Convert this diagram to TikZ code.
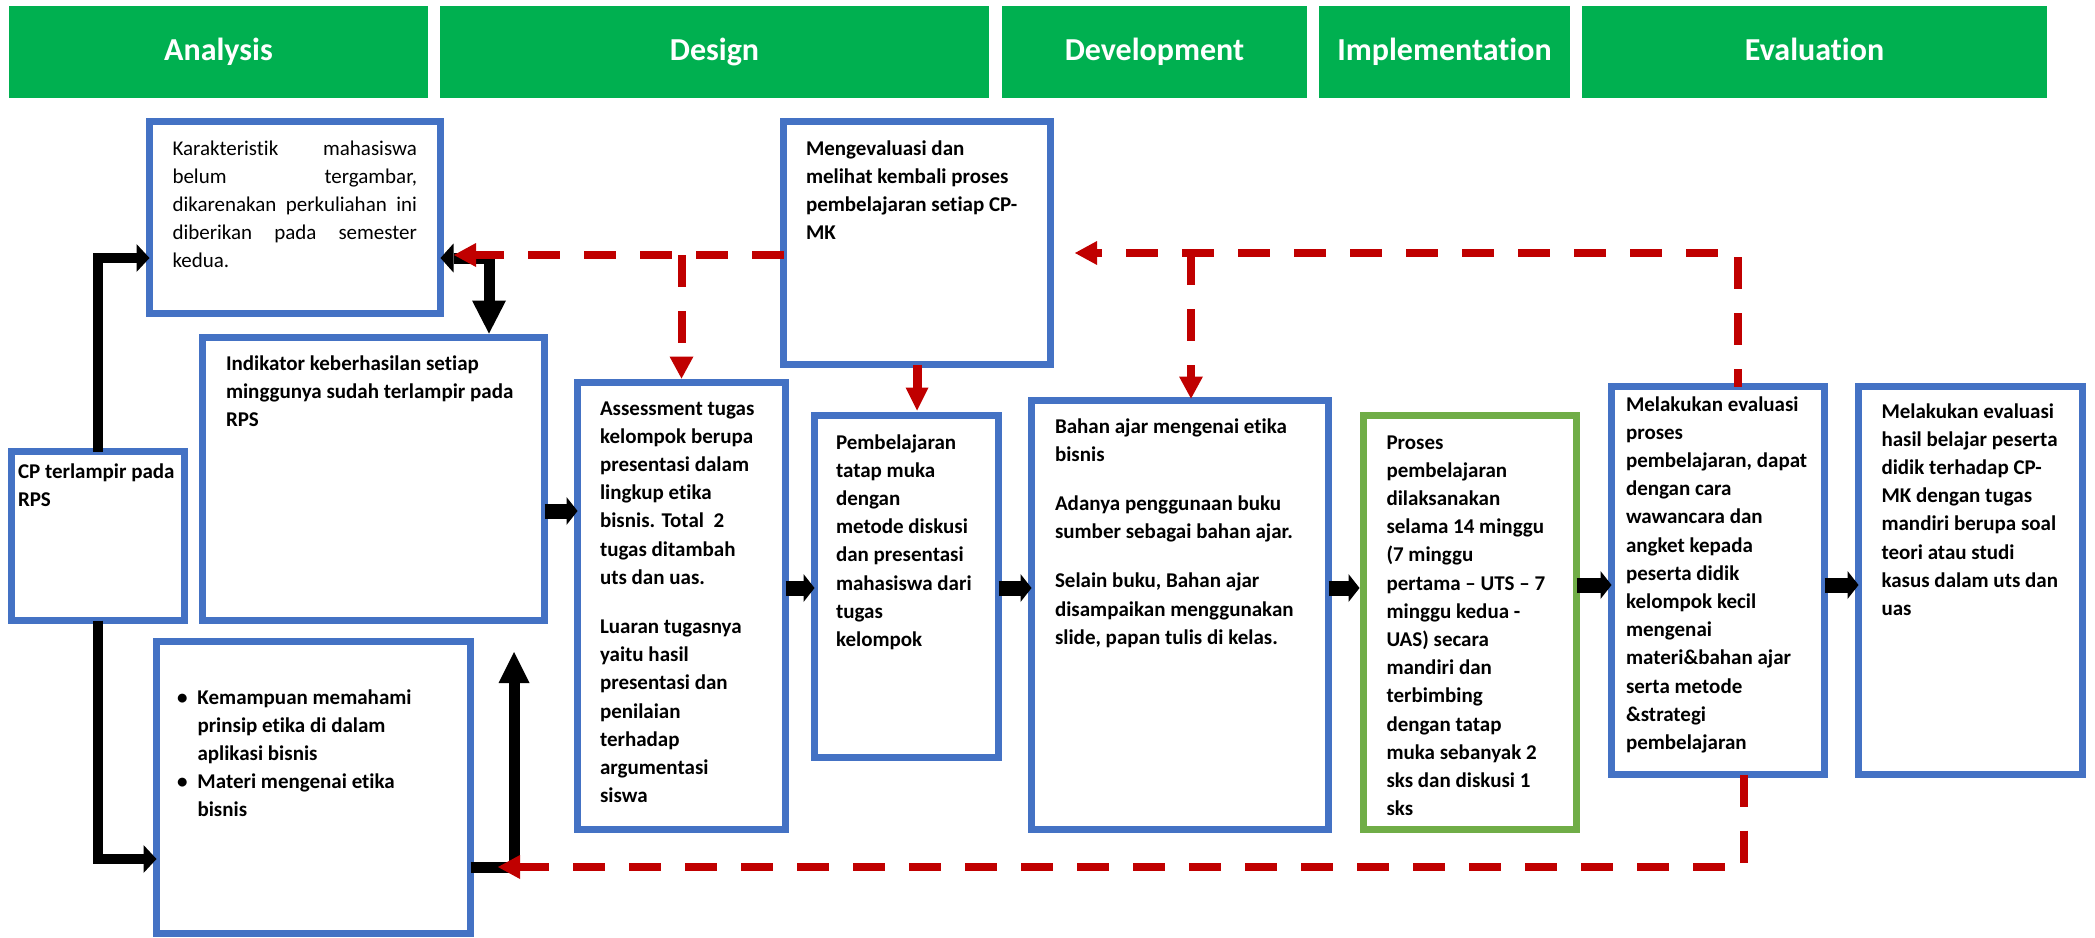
\documentclass[tikz,border=0pt]{standalone}
\usepackage{fontspec}
\setmainfont{Carlito}[Ligatures={NoCommon}]
\usetikzlibrary{arrows.meta}
\definecolor{hgreen}{HTML}{00B050}
\definecolor{bblue}{HTML}{4472C4}
\definecolor{bgreen}{HTML}{70AD47}
\definecolor{rred}{HTML}{C00000}
\newcommand{\mybody}{\fontsize{21}{28.2}\selectfont\bfseries}
\newcommand{\myreg}{\fontsize{21}{28.2}\selectfont}
\newcommand{\myhdr}{\fontsize{32}{38}\selectfont\bfseries}
\newcommand{\mystrut}{\rule{0pt}{18pt}}
\begin{document}
\begin{tikzpicture}[x=1pt,y=-1pt,
  hdr/.style={fill=hgreen, text=white, font=\myhdr, inner sep=0pt, outer sep=0pt, text height=23pt, text depth=7pt, minimum height=92pt},
  bbox/.style={draw=bblue, line width=7pt, inner sep=0pt, outer sep=0pt, anchor=north west},
  gbox/.style={bbox, draw=bgreen},
  txt/.style={anchor=north west, inner sep=0pt, outer sep=0pt, align=left, font=\mybody},
  sarr/.style={line width=15pt, -{Triangle[length=11pt,width=28pt,line width=0pt]}},
  elbA/.style={line width=10pt, -{Triangle[length=13pt,width=28pt,line width=0pt]}},
  elbB/.style={line width=11pt, {Triangle[length=13pt,width=29pt,line width=0pt]}-{Triangle[length=33pt,width=34pt,line width=0pt]}},
  elbC/.style={line width=11pt, -{Triangle[length=31pt,width=31pt,line width=0pt]}},
  rdash/.style={draw=rred, line width=8pt, dash pattern=on 32pt off 24pt, -{Triangle[length=22pt,width=24pt,line width=0pt]}},
  rsolid/.style={draw=rred, line width=9pt, -{Triangle[length=23pt,width=23pt,line width=0pt]}}
]
\useasboundingbox (0,0) rectangle (2095,937);

% header bars
\node[hdr, minimum width=419pt] (hA) at (218.5,52) {Analysis};
\node[hdr, minimum width=549pt] (hD) at (714.5,52) {Design};
\node[hdr, minimum width=305pt] (hV) at (1154.5,52) {Development};
\node[hdr, minimum width=251pt] (hI) at (1444.5,52) {Implementation};
\node[hdr, minimum width=465pt] (hE) at (1814.5,52) {Evaluation};

% boxes
\node[bbox, minimum width=291pt, minimum height=192pt] (kar) at (149.5,121.5) {};
\node[bbox, minimum width=342pt, minimum height=283pt] (ind) at (202.5,337.5) {};
\node[bbox, minimum width=173pt, minimum height=169pt] (cp) at (11.5,451.5) {};
\node[bbox, minimum width=314pt, minimum height=292pt] (kem) at (156.5,641.5) {};
\node[bbox, minimum width=267pt, minimum height=243pt] (men) at (783.5,121.5) {};
\node[bbox, minimum width=208pt, minimum height=447pt] (ass) at (577.5,382.5) {};
\node[bbox, minimum width=184pt, minimum height=342pt] (pem) at (814.5,415.5) {};
\node[bbox, minimum width=297pt, minimum height=429pt] (bah) at (1031.5,400.5) {};
\node[gbox, minimum width=213pt, minimum height=414pt] (pro) at (1363.5,415.5) {};
\node[bbox, minimum width=213pt, minimum height=388pt] (mep) at (1611.5,386.5) {};
\node[bbox, minimum width=224pt, minimum height=388pt] (has) at (1858.5,386.5) {};

% texts
\node[txt, font=\myreg] (kart) at (172.5,137) {\mystrut\makebox[244.5pt][s]{Karakteristik mahasiswa}\\
\makebox[244.5pt][s]{belum tergambar,}\\
\makebox[244.5pt][s]{dikarenakan perkuliahan ini}\\
\makebox[244.5pt][s]{diberikan pada semester}\\
kedua.};
\node[txt] (indt) at (226,352) {\mystrut Indikator keberhasilan setiap\\minggunya sudah terlampir pada\\RPS};
\node[txt] (cpt) at (18,460) {\mystrut CP terlampir pada\\RPS};
\node[txt] (kemt) at (177,686) {\mystrut\makebox[20.5pt][l]{\textbullet}Kemampuan memahami\\
\hspace*{20.5pt}prinsip etika di dalam\\
\hspace*{20.5pt}aplikasi bisnis\\
\makebox[20.5pt][l]{\textbullet}Materi mengenai etika\\
\hspace*{20.5pt}bisnis};
\node[txt] (ment) at (806,137) {\mystrut Mengevaluasi dan\\melihat kembali proses\\pembelajaran setiap CP-\\MK};
\node[txt] (asst) at (600,397) {\mystrut Assessment tugas\\kelompok berupa\\presentasi dalam\\lingkup etika\\bisnis. Total\ \ 2\\tugas ditambah\\uts dan uas.\\[21pt]Luaran tugasnya\\yaitu hasil\\presentasi dan\\penilaian\\terhadap\\argumentasi\\siswa};
\node[txt] (pemt) at (836,431) {\mystrut Pembelajaran\\tatap muka\\dengan\\metode diskusi\\dan presentasi\\mahasiswa dari\\tugas\\kelompok};
\node[txt] (baht) at (1055,415) {\mystrut Bahan ajar mengenai etika\\bisnis\\[21pt]Adanya penggunaan buku\\sumber sebagai bahan ajar.\\[21pt]Selain buku, Bahan ajar\\disampaikan menggunakan\\slide, papan tulis di kelas.};
\node[txt] (prot) at (1386.5,431) {\mystrut Proses\\pembelajaran\\dilaksanakan\\selama 14 minggu\\(7 minggu\\pertama – UTS – 7\\minggu kedua -\\UAS) secara\\mandiri dan\\terbimbing\\dengan tatap\\muka sebanyak 2\\sks dan diskusi 1\\sks};
\node[txt] (mept) at (1626,393) {\mystrut Melakukan evaluasi\\proses\\pembelajaran, dapat\\dengan cara\\wawancara dan\\angket kepada\\peserta didik\\kelompok kecil\\mengenai\\materi\&bahan ajar\\serta metode\\\&strategi\\pembelajaran};
\node[txt] (hast) at (1881.5,400) {\mystrut Melakukan evaluasi\\hasil belajar peserta\\didik terhadap CP-\\MK dengan tugas\\mandiri berupa soal\\teori atau studi\\kasus dalam uts dan\\uas};

% free ends
\coordinate (upt) at (514,652);
\coordinate (rA) at (454,255);
\coordinate (rB) at (1075,253);
\coordinate (rC) at (498,867);

% black connectors
\draw[elbA] (cp.north) |- ([yshift=-40.5pt]kar.west);
\draw[elbA] (cp.south) |- ([yshift=-71.5pt]kem.west);
\draw[elbB] ([yshift=-40.5pt]kar.east) -| ([xshift=115.5pt,yshift=4pt]ind.north);
\draw[elbC] ([yshift=-79.5pt]kem.east) -| (upt);
\draw[sarr] ([yshift=-32pt]ind.east) -- ([yshift=-32pt]ind.east -| ass.west);
\draw[sarr] ([yshift=18pt]ass.east) -- ([yshift=18pt]ass.east -| pem.west);
\draw[sarr] ([yshift=-1.5pt]pem.east) -- ([yshift=-1.5pt]pem.east -| bah.west);
\draw[sarr] ([yshift=27pt]bah.east) -- ([yshift=27pt,xshift=-4pt]bah.east -| pro.west);
\draw[sarr] ([yshift=37.5pt]pro.east) -- ([yshift=37.5pt]pro.east -| mep.west);
\draw[sarr] ([yshift=-4.5pt]mep.east) -- ([yshift=-4.5pt]mep.east -| has.west);

% red connectors
\draw[rdash] ([yshift=-12pt]men.west) -- (rA);
\draw[rdash] (ass.north |- rA) -- ([yshift=4pt]ass.north);
\draw[rsolid] (men.south) -- ([yshift=5pt]men.south |- pem.north);
\draw[rdash, dash phase=14pt] ([xshift=20pt]mep.north) |- (rB);
\draw[rdash] ([xshift=11pt]bah.north |- rB) -- ([xshift=11pt,yshift=2pt]bah.north);
\draw[rdash] ([xshift=26pt]mep.south) |- (rC);
\end{tikzpicture}
\end{document}
